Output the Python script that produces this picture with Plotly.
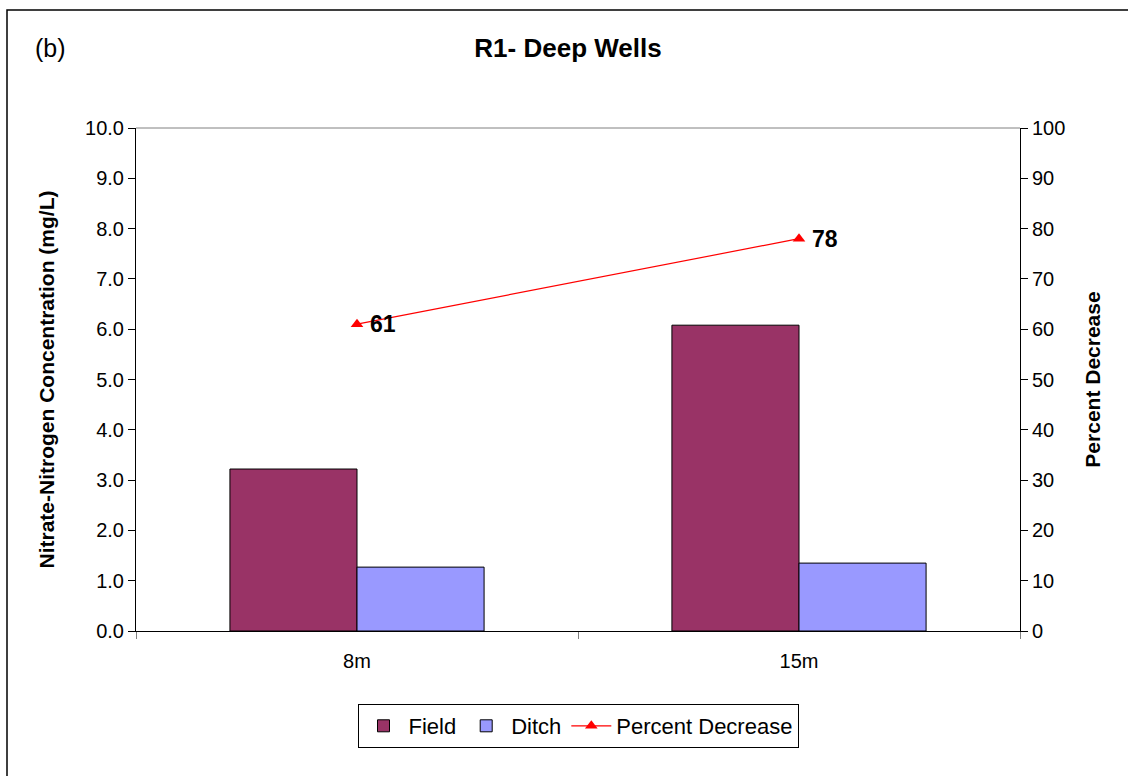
import plotly.graph_objects as go

categories = ["8m", "15m"]
field = [3.22, 6.08]
ditch = [1.27, 1.35]
percent_decrease = [61, 78]
pct_labels = ["61", "78"]

FONT = "Liberation Sans, Arial, sans-serif"

fig = go.Figure()
fig.add_trace(go.Bar(x=categories, y=field, name="Field",
                     marker=dict(color="#993366", line=dict(color="black", width=1))))
fig.add_trace(go.Bar(x=categories, y=ditch, name="Ditch",
                     marker=dict(color="#9999FF", line=dict(color="black", width=1))))
fig.add_trace(go.Scatter(x=categories, y=percent_decrease, name="Percent Decrease", yaxis="y2",
                         mode="lines+markers",
                         line=dict(color="#FF0000", width=1.2),
                         marker=dict(symbol="triangle-up", size=11, color="#FF0000")))

for c, v, t in zip(categories, percent_decrease, pct_labels):
    fig.add_annotation(x=c, y=v, xref="x", yref="y2", text="<b>%s</b>" % t,
                       showarrow=False, xanchor="left", xshift=11,
                       font=dict(size=23, color="black", family=FONT))

fig.add_annotation(x=(33 - 136) / 884, y=(631 - 48) / 503, xref="paper", yref="paper",
                   text="(b)", showarrow=False, xanchor="left", yanchor="middle",
                   font=dict(size=25, color="black", family=FONT))

# outer chart border (only left and top edges visible in the frame)
fig.add_shape(type="rect", xref="paper", yref="paper",
              x0=(7 - 136) / 884, x1=(1140 - 136) / 884,
              y0=(631 - 790) / 503, y1=(631 - 10) / 503,
              line=dict(color="black", width=1.5), fillcolor="rgba(0,0,0,0)", layer="below")

fig.update_layout(
    width=1128, height=776,
    margin=dict(l=136, r=108, t=128, b=145),
    paper_bgcolor="white", plot_bgcolor="white",
    font=dict(family=FONT, size=20, color="black"),
    title=dict(text="<b>R1- Deep Wells</b>", x=568 / 1128, xanchor="center",
               y=1 - 48 / 776, yanchor="middle", font=dict(size=26, family=FONT)),
    barmode="group", bargap=0.425, bargroupgap=0,
    showlegend=True,
    legend=dict(orientation="h", x=0.5, xanchor="center", y=(631 - 704) / 503, yanchor="top",
                bordercolor="black", borderwidth=1, bgcolor="white",
                font=dict(size=22, family=FONT), tracegroupgap=0, itemwidth=40),
    xaxis=dict(showline=True, linecolor="black", linewidth=1, ticks="outside",
               tickson="boundaries", ticklen=7, tickcolor="gray", mirror=False,
               tickfont=dict(size=20), showgrid=False, ticklabelstandoff=12),
    yaxis=dict(range=[0, 10], dtick=1, tickformat=".1f", showline=True, linecolor="black",
               linewidth=1, ticks="outside", ticklen=7, tickcolor="black", showgrid=False,
               zeroline=False, tickfont=dict(size=20),
               title=dict(text="<b>Nitrate-Nitrogen Concentration (mg/L)</b>",
                          font=dict(size=21), standoff=24)),
    yaxis2=dict(range=[0, 100], dtick=10, overlaying="y", side="right", showline=True,
                linecolor="black", linewidth=1, ticks="outside", ticklen=7, tickcolor="black",
                showgrid=False, zeroline=False, tickfont=dict(size=20),
                title=dict(text="<b>Percent Decrease</b>", font=dict(size=21), standoff=20)),
)

# gray top border of plot area
fig.add_shape(type="line", xref="paper", yref="paper", x0=0, x1=1, y0=1, y1=1,
              line=dict(color="#808080", width=1))

fig.write_html("out.html", config={"displayModeBar": False},
               post_script="document.body.style.margin='0';")
